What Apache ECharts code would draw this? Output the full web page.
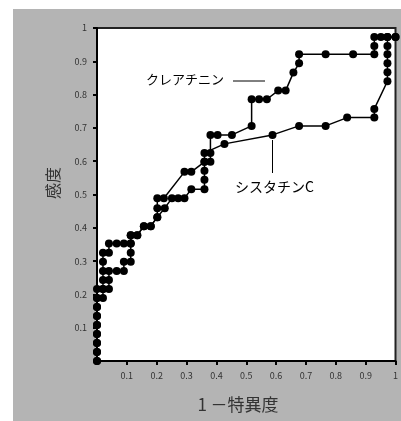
<!DOCTYPE html>
<html>
<head>
<meta charset="utf-8">
<script src="https://cdn.jsdelivr.net/npm/echarts@6/dist/echarts.min.js"></script>
<style>
  html, body { margin: 0; padding: 0; background: #ffffff; }
  #chart { width: 401px; height: 421px; }
</style>
</head>
<body>
<div id="chart"></div>
<script>
// ROC curve points: false positive rate (1 - specificity) and sensitivity
const creatinineFpr = [0, 0, 0, 0, 0, 0, 0, 0, 0.02, 0.02, 0.02, 0.02, 0.02, 0.02, 0.04, 0.04, 0.066, 0.09, 0.113, 0.113, 0.135, 0.157, 0.18, 0.202, 0.202, 0.202, 0.224, 0.293, 0.316, 0.36, 0.38, 0.38, 0.38, 0.404, 0.452, 0.518, 0.518, 0.543, 0.569, 0.607, 0.632, 0.658, 0.677, 0.677, 0.766, 0.858, 0.929, 0.929, 0.929, 0.951, 0.973, 1];
const creatinineTpr = [0, 0.027, 0.054, 0.081, 0.108, 0.135, 0.162, 0.189, 0.189, 0.216, 0.243, 0.27, 0.298, 0.325, 0.325, 0.353, 0.353, 0.353, 0.353, 0.378, 0.378, 0.405, 0.405, 0.432, 0.459, 0.489, 0.489, 0.568, 0.568, 0.598, 0.598, 0.625, 0.679, 0.679, 0.679, 0.706, 0.786, 0.786, 0.786, 0.812, 0.812, 0.866, 0.894, 0.921, 0.921, 0.921, 0.921, 0.946, 0.973, 0.973, 0.973, 0.973];

const cystatinFpr = [0, 0, 0, 0, 0, 0, 0, 0, 0, 0.02, 0.04, 0.04, 0.04, 0.066, 0.09, 0.09, 0.113, 0.113, 0.113, 0.113, 0.135, 0.157, 0.18, 0.202, 0.227, 0.251, 0.272, 0.293, 0.316, 0.36, 0.36, 0.36, 0.36, 0.36, 0.427, 0.588, 0.677, 0.766, 0.838, 0.929, 0.929, 0.973, 0.973, 0.973, 0.973, 0.973, 0.973, 1];
const cystatinTpr = [0, 0.027, 0.054, 0.081, 0.108, 0.135, 0.162, 0.189, 0.216, 0.216, 0.216, 0.243, 0.27, 0.27, 0.27, 0.298, 0.298, 0.325, 0.353, 0.378, 0.378, 0.405, 0.405, 0.432, 0.459, 0.489, 0.489, 0.489, 0.516, 0.516, 0.544, 0.571, 0.598, 0.625, 0.652, 0.679, 0.706, 0.706, 0.731, 0.731, 0.757, 0.84, 0.867, 0.894, 0.921, 0.946, 0.973, 0.973];

const axisTicks = [0.1, 0.2, 0.3, 0.4, 0.5, 0.6, 0.7, 0.8, 0.9, 1];

const seriesNames = ['クレアチニン', 'シスタチンC'];
const xAxisTitle = '1 －特異度';
const yAxisTitle = '感度';

function zip(xs, ys) {
  return xs.map((x, i) => [x, ys[i]]);
}

function tickLabel(v) {
  const r = Math.round(v * 10) / 10;
  if (r === 0) return '';
  return axisTicks.includes(r) ? String(r) : '';
}

const FONT = '"Noto Sans CJK JP", "Noto Sans", sans-serif';

const chart = echarts.init(document.getElementById('chart'), null, { renderer: 'canvas' });

const lineSeries = (name, data) => ({
  name: name,
  type: 'line',
  data: data,
  symbol: 'circle',
  symbolSize: 8,
  clip: false,
  itemStyle: { color: '#000000' },
  lineStyle: { color: '#000000', width: 1.5 },
  emphasis: { disabled: true }
});

chart.setOption({
  animation: false,
  backgroundColor: '#ffffff',
  graphic: [
    // grey panel behind the plot
    { type: 'rect', z: -10, shape: { x: 13, y: 9, width: 388, height: 412 }, style: { fill: '#b4b4b4' } },
    // series labels with leader lines
    { type: 'text', left: 146, top: 73, style: { text: seriesNames[0], font: '13px ' + FONT, fill: '#000000' } },
    { type: 'line', shape: { x1: 233, y1: 81, x2: 265, y2: 81 }, style: { stroke: '#000000', lineWidth: 1 } },
    { type: 'text', left: 235, top: 180, style: { text: seriesNames[1], font: '14px ' + FONT, fill: '#000000' } },
    { type: 'line', shape: { x1: 272.5, y1: 140, x2: 272.5, y2: 173 }, style: { stroke: '#000000', lineWidth: 1 } },
    // axis titles (vertical one reads bottom to top)
    { type: 'text', x: 53, y: 183, rotation: Math.PI / 2, style: { text: yAxisTitle, font: '16px ' + FONT, fill: '#333333', align: 'center', verticalAlign: 'middle' } },
    { type: 'text', x: 238, y: 405, style: { text: xAxisTitle, font: '17px ' + FONT, fill: '#333333', align: 'center', verticalAlign: 'middle' } }
  ],
  grid: {
    left: 97, top: 28, right: 4, bottom: 60,
    show: true,
    backgroundColor: '#ffffff',
    borderColor: '#222222',
    borderWidth: 2
  },
  xAxis: {
    type: 'value',
    min: 0, max: 1, interval: 0.1,
    axisLine: { show: true, lineStyle: { color: '#000000', width: 2 } },
    axisTick: { show: true, length: 4, inside: false, lineStyle: { color: '#000000', width: 2 } },
    axisLabel: { formatter: tickLabel, fontSize: 9, color: '#333333', margin: 10, fontFamily: FONT },
    splitLine: { show: false }
  },
  yAxis: {
    type: 'value',
    min: 0, max: 1, interval: 0.1,
    axisLine: { show: true, lineStyle: { color: '#000000', width: 2 } },
    axisTick: { show: true, length: 4, inside: false, lineStyle: { color: '#000000', width: 2 } },
    axisLabel: { formatter: tickLabel, fontSize: 9, color: '#333333', margin: 10, fontFamily: FONT },
    splitLine: { show: false }
  },
  series: [
    lineSeries(seriesNames[0], zip(creatinineFpr, creatinineTpr)),
    lineSeries(seriesNames[1], zip(cystatinFpr, cystatinTpr))
  ]
});
</script>
</body>
</html>
